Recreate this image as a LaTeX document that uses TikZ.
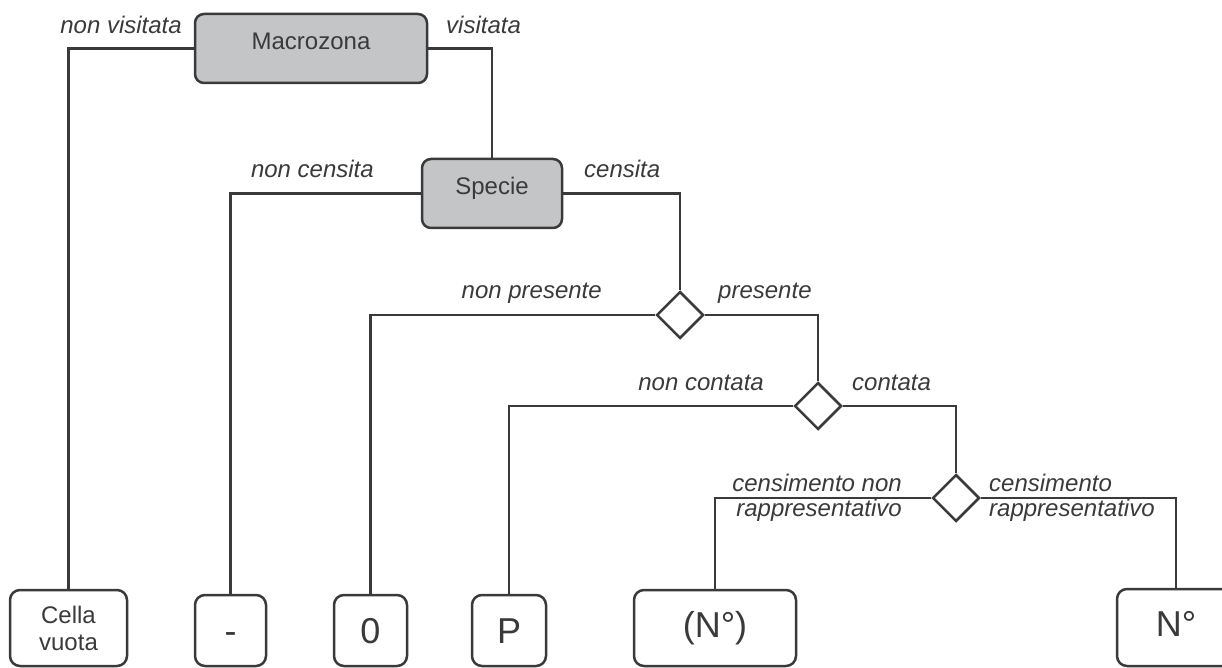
\documentclass[tikz,border=0pt]{standalone}
\usepackage{fontspec}
\setmainfont{Liberation Sans}
\usepackage{tikz}
\usetikzlibrary{shapes.geometric, calc, positioning}
\definecolor{linegray}{HTML}{3A3A3A}
\definecolor{boxgray}{HTML}{C4C5C7}
\tikzstyle{attribute} = [rectangle, rounded corners=9pt, line width=2.5pt, draw=linegray, fill=boxgray, text=linegray, font=\fontsize{24}{28}\selectfont, text height=17pt, text depth=14pt, inner sep=0pt]
\tikzstyle{outcome} = [rectangle, rounded corners=10pt, line width=2.5pt, draw=linegray, fill=white, text=linegray, font=\fontsize{36}{40}\selectfont, text height=26pt, text depth=0pt, inner sep=0pt]
\tikzstyle{decision} = [diamond, aspect=1, line width=2.5pt, draw=linegray, fill=white, minimum width=47pt, minimum height=47pt, inner sep=0pt]
\tikzstyle{branch} = [font=\fontsize{24}{25}\selectfont\itshape, text=linegray, inner sep=0pt, text height=17pt, text depth=5pt]
\tikzstyle{connector} = [line width=2.3pt, draw=linegray]

\begin{document}
\begin{tikzpicture}[x=1pt, y=-1pt]
	\useasboundingbox (0,0) rectangle (1222,668);
	\clip (0,0) rectangle (1222,668);
	\node (Macrozona) [attribute, minimum width=232pt, minimum height=69pt] at (311,48.5) {Macrozona};
	\node (Specie) [attribute, minimum width=140pt, minimum height=69pt] at (492,193.5) {Specie};
	\node (Presenza) [decision] at (680,315) {};
	\node (Conteggio) [decision] at (818,406) {};
	\node (Censimento) [decision] at (956,498) {};
	\node (CellaVuota) [outcome, minimum width=117pt, minimum height=76pt, font=\fontsize{24}{27}\selectfont, align=center, text height=, text depth=] at (68.5,628) {Cella\\vuota};
	\node (NonCensita) [outcome, minimum width=71pt, minimum height=71pt] at (230.5,630.5) {-};
	\node (Zero) [outcome, minimum width=73pt, minimum height=71pt] at (370.5,630.5) {0};
	\node (Presente) [outcome, minimum width=74pt, minimum height=71pt] at (509,630.5) {P};
	\node (Stima) [outcome, minimum width=162pt, minimum height=76pt, text depth=8pt] at (715,628) {(N°)};
	\node (Numero) [outcome, minimum width=118pt, minimum height=77pt, text depth=8pt] at (1176,627.5) {N°};

	\node (lNonVisitata) [branch, anchor=east] at (182,28) {non visitata};
	\node (lVisitata) [branch, anchor=west] at (446,28) {visitata};
	\node (lNonCensita) [branch, anchor=east] at (374,172) {non censita};
	\node (lCensita) [branch, anchor=west] at (584,172) {censita};
	\node (lNonPresente) [branch, anchor=east] at (602,292) {non presente};
	\node (lPresente) [branch, anchor=west] at (718,292) {presente};
	\node (lNonContata) [branch, anchor=east] at (764,384) {non contata};
	\node (lContata) [branch, anchor=west] at (852,384) {contata};
	\node (lNonRappr) [branch, anchor=east, align=right, text height=, text depth=] at (902,497.5) {censimento non\\rappresentativo};
	\node (lRappr) [branch, anchor=west, align=left, text height=, text depth=] at (989,497.5) {censimento\\rappresentativo};

	\draw [connector] (Macrozona.west) -| (CellaVuota.north);
	\draw [connector] (Macrozona.east) -| (Specie.north);
	\draw [connector] (Specie.west) -| (NonCensita.north);
	\draw [connector] (Specie.east) -| (Presenza.north);
	\draw [connector] (Presenza.west) -| (Zero.north);
	\draw [connector] (Presenza.east) -| (Conteggio.north);
	\draw [connector] (Conteggio.west) -| (Presente.north);
	\draw [connector] (Conteggio.east) -| (Censimento.north);
	\draw [connector] (Censimento.west) -| (Stima.north);
	\draw [connector] (Censimento.east) -| (Numero.north);
\end{tikzpicture}
\end{document}
